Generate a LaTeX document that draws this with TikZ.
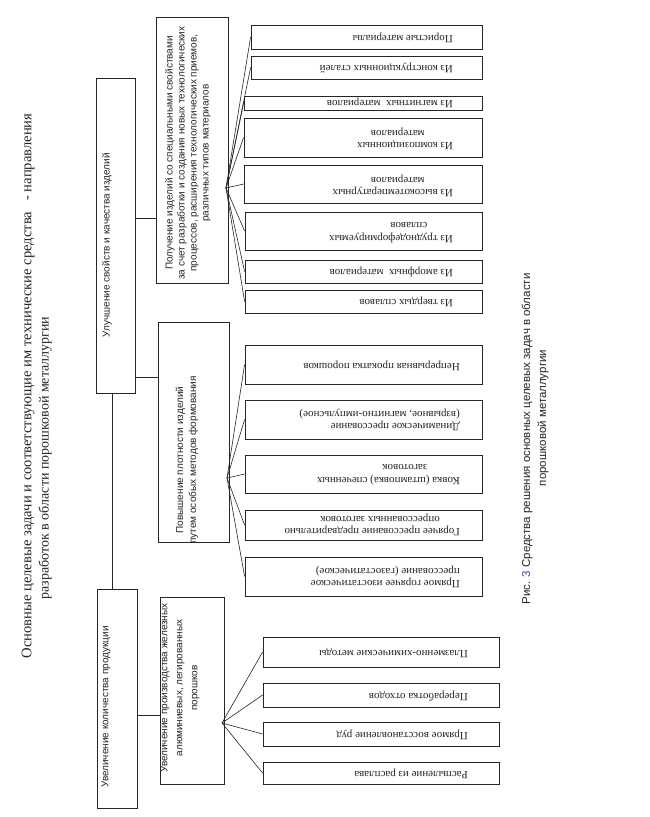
\documentclass[tikz,border=0pt]{standalone}
\usepackage{fontspec}
\setmainfont{Liberation Serif}
\setsansfont{Liberation Sans}
\definecolor{ink}{gray}{0.15}
\definecolor{numblue}{rgb}{0.25,0.3,0.6}
\newcommand{\mkbox}[5]{\node[boxst, minimum width=#4pt-#2pt, minimum height=#5pt-#3pt] (#1) at ({(#2+#4)/2},{(#3+#5)/2}) {};}
\begin{document}
\begin{tikzpicture}[x=1pt,y=-1pt,
  boxst/.style={draw=ink,line width=0.8pt,inner sep=0pt},
  link/.style={draw=ink,line width=0.6pt},
  leaf/.style={rotate=180,anchor=west,align=left,inner sep=0pt,text=ink,font=\fontsize{11}{12.5}\selectfont},
  vtext/.style={rotate=90,inner sep=0pt,text=ink,align=center,font=\sffamily\fontsize{10}{12}\selectfont},
  ttl/.style={rotate=90,inner sep=0pt,text=ink,font=\fontsize{14}{16}\selectfont},
  capst/.style={rotate=90,inner sep=0pt,text=ink,font=\sffamily\fontsize{11.5}{14}\selectfont}]
\fill[white] (0,0) rectangle (650,817);
\useasboundingbox (0,0) rectangle (650,817);

% title
\node[ttl,font=\fontsize{14.6}{16}\selectfont] (t1) at (28,386) {Основные целевые задачи и соответствующие им технические средства \ \ - направления};
\node[ttl] (t2) at (45,458) {разработок в области порошковой металлургии};

% caption
\node[capst] (cap1) at (527,439) {Рис. {\color{numblue}3} Средства решения основных целевых задач в области};
\node[capst] (cap2) at (543,418) {порошковой металлургии};

% main boxes
\mkbox{A}{96}{78}{135}{393}
\mkbox{B}{97}{589}{137}{808}
\mkbox{C}{156}{17}{228}{283}
\mkbox{D}{158}{322}{229}{542}
\mkbox{E}{160}{597}{224}{784}

\node[vtext] (tA) at (107,245) {Улучшение свойств и качества изделий};
\node[vtext] (tB) at (106,707) {Увеличение количества продукции};
\node[vtext] (tC) at (188,153) {Получение изделий со специальными свойствами\\за счет разработки и создания новых технологических\\процессов, расширения технологических приемов,\\различных типов материалов};
\node[vtext,font=\sffamily\fontsize{10}{13}\selectfont] (tD) at (187,460) {Повышение плотности изделий\\путем особых методов формования};
\node[vtext,font=\sffamily\fontsize{10}{15}\selectfont] (tE) at (180,688) {Увеличение производства железных\\алюминиевых, легированных\\порошков};

% leaves of C
\mkbox{c1}{251}{25}{482}{49}
\mkbox{c2}{251}{56}{482}{79}
\mkbox{c3}{244}{96}{482}{110}
\mkbox{c4}{244}{118}{482}{157}
\mkbox{c5}{244}{165}{482}{203}
\mkbox{c6}{245}{212}{482}{250}
\mkbox{c7}{245}{260}{482}{283}
\mkbox{c8}{245}{290}{482}{313}
\node[leaf] (lc1) at (453,38) {Пористые материалы};
\node[leaf] (lc2) at (453,68) {Из конструкционных сталей};
\node[leaf] (lc3) at (453,103) {Из магнитных\ \ материалов};
\node[leaf] (lc4) at (453,139) {Из композиционных\\\makebox[110pt]{материалов}};
\node[leaf] (lc5) at (453,186) {Из высокотемпературных\\\makebox[110pt]{материалов}};
\node[leaf] (lc6) at (453,233) {Из труднодеформируемых\\\makebox[88pt]{сплавов}};
\node[leaf] (lc7) at (453,272) {Из аморфных\ \ материалов};
\node[leaf] (lc8) at (453,302) {Из твердых сплавов};

% leaves of D
\mkbox{d1}{245}{345}{482}{384}
\mkbox{d2}{245}{400}{482}{439}
\mkbox{d3}{245}{455}{482}{493}
\mkbox{d4}{245}{510}{482}{540}
\mkbox{d5}{245}{557}{482}{596}
\node[leaf] (ld1) at (460,366) {Непрерывная прокатка порошков};
\node[leaf] (ld2) at (460,420) {Динамическое прессование\\(взрывное, магнитно-импульсное)};
\node[leaf] (ld3) at (460,475) {Ковка (штамповка) спеченных\\\makebox[110pt]{заготовок}};
\node[leaf] (ld4) at (460,525) {Горячее прессование предварительно\\\hspace*{20pt}опрессованных заготовок};
\node[leaf] (ld5) at (460,577) {Прямое горячее изостатическое\\прессование (газостатическое)};

% leaves of E
\mkbox{e1}{263}{637}{499}{667}
\mkbox{e2}{263}{683}{499}{707}
\mkbox{e3}{263}{722}{499}{746}
\mkbox{e4}{263}{762}{499}{784}
\node[leaf] (le1) at (468,653) {Плазменно-химические методы};
\node[leaf] (le2) at (468,696) {Переработка отходов};
\node[leaf] (le3) at (468,735) {Прямое восстановление руд};
\node[leaf] (le4) at (468,774) {Распыление из расплава};

% helper coordinates
\coordinate (yAC) at (0,218);
\coordinate (yAD) at (0,377);
\coordinate (yBE) at (0,715);
\coordinate (cf) at (226,188);
\coordinate (df) at (227,478);
\coordinate (ef) at (222,723);

% tree connectors
\draw[link] ([xshift=-3.5pt]A.south) -- ([xshift=-3.5pt]A.south |- B.north);
\draw[link] (A.east |- yAC) -- (C.west |- yAC);
\draw[link] (A.east |- yAD) -- (D.west |- yAD);
\draw[link] (B.east |- yBE) -- (E.west |- yBE);

\foreach \n in {c1,c2,c3,c4,c5,c6,c7,c8} \draw[link] (cf) -- (\n.west);
\foreach \n in {d1,d2,d3,d4,d5} \draw[link] (df) -- (\n.west);
\foreach \n in {e1,e2,e3,e4} \draw[link] (ef) -- (\n.west);
\end{tikzpicture}
\end{document}
